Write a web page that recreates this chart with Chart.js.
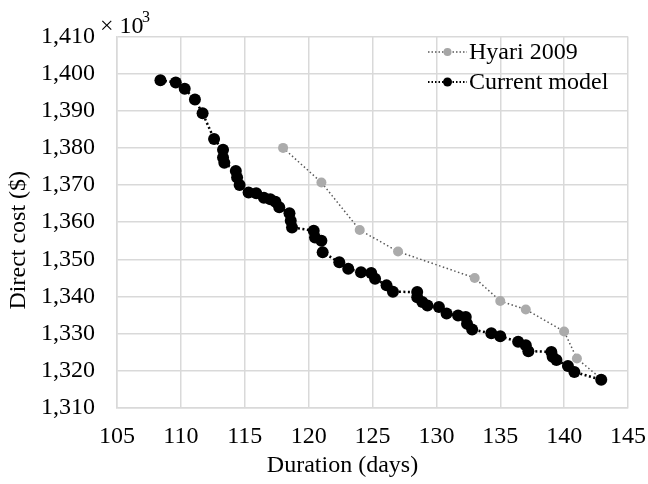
<!DOCTYPE html>
<html>
<head>
<meta charset="utf-8">
<script src="https://cdn.jsdelivr.net/npm/chart.js@4"></script>
<style>
  html, body { margin: 0; padding: 0; background: #fff; }
  #wrap { width: 648px; height: 484px; }
</style>
</head>
<body>
<div id="wrap"><canvas id="costchart" width="648" height="484"></canvas></div>
<script>
// data, cost in thousands of $
const hyariDays = [118, 121, 124, 127, 133, 135, 137, 140, 141, 143];
const hyariCost = [1380.0, 1370.7, 1357.9, 1352.1, 1345.0, 1338.8, 1336.5, 1330.6, 1323.3, 1317.6];

const modelDays = [108.4, 109.6, 110.3, 111.1, 111.7, 112.6, 113.3, 113.3, 113.4, 114.3,
  114.4, 114.6, 115.3, 115.9, 116.5, 117.0, 117.4, 117.7, 118.5, 118.6,
  118.7, 120.4, 120.5, 121.0, 121.1, 122.4, 123.1, 124.1, 124.9, 125.2,
  126.1, 126.6, 128.5, 128.5, 128.9, 129.3, 130.2, 130.8, 131.7, 132.3,
  132.4, 132.8, 134.3, 135.0, 136.4, 137.0, 137.2, 139.0, 139.1, 139.4,
  140.3, 140.8, 142.9];
const modelCost = [1398.2, 1397.6, 1395.9, 1393.0, 1389.3, 1382.4, 1379.5, 1377.4, 1376.0, 1373.8,
  1372.0, 1370.0, 1368.0, 1367.8, 1366.6, 1366.2, 1365.5, 1364.0, 1362.4, 1360.4,
  1358.6, 1357.7, 1355.9, 1355.0, 1351.9, 1349.2, 1347.5, 1346.5, 1346.3, 1344.8,
  1343.0, 1341.3, 1341.2, 1339.8, 1338.5, 1337.6, 1337.2, 1335.4, 1334.9, 1334.5,
  1332.7, 1331.1, 1330.1, 1329.3, 1327.8, 1326.9, 1325.3, 1325.1, 1323.8, 1322.9,
  1321.3, 1319.7, 1317.6];

const seriesNames = ['Hyari 2009', 'Current model'];
const xTitle = 'Duration (days)';
const yTitle = 'Direct cost ($)';

const serif = "'Liberation Serif', 'Times New Roman', serif";
const gridColor = '#d9d9d9';

const toPoints = (xs, ys) => xs.map((x, i) => ({ x: x, y: ys[i] }));

// exponent note + legend drawn on top of the plot
const extras = {
  id: 'extras',
  afterDraw(chart) {
    const c = chart.ctx;
    c.save();
    c.fillStyle = '#000';
    c.font = '24px ' + serif;
    c.textBaseline = 'alphabetic';
    c.textAlign = 'left';
    c.fillText('\u00d7 10', 100, 33);
    c.font = '16px ' + serif;
    c.fillText('3', 142, 22);

    const rows = [
      { y: 52, dot: '#a6a6a6', line: '#595959', r: 4 },
      { y: 82, dot: '#000', line: '#000', r: 4.5 }
    ];
    rows.forEach((row, i) => {
      c.strokeStyle = row.line;
      c.lineWidth = i ? 2 : 1.5;
      c.setLineDash([1.5, 2]);
      c.beginPath();
      c.moveTo(428, row.y);
      c.lineTo(467, row.y);
      c.stroke();
      c.setLineDash([]);
      c.fillStyle = row.dot;
      c.beginPath();
      c.arc(447.5, row.y, row.r, 0, Math.PI * 2);
      c.fill();
      c.fillStyle = '#000';
      c.font = '24px ' + serif;
      c.textBaseline = 'middle';
      c.fillText(seriesNames[i], 469, row.y + 1);
    });
    c.restore();
  }
};

new Chart(document.getElementById('costchart'), {
  type: 'scatter',
  data: {
    datasets: [{
      label: seriesNames[0],
      data: toPoints(hyariDays, hyariCost),
      showLine: true,
      borderColor: '#595959',
      borderWidth: 1.5,
      borderDash: [1.5, 2.5],
      pointRadius: 5,
      pointBackgroundColor: '#ababab',
      pointBorderWidth: 0,
      order: 2
    }, {
      label: seriesNames[1],
      data: toPoints(modelDays, modelCost),
      showLine: true,
      borderColor: '#000',
      borderWidth: 2.5,
      borderDash: [2, 2.5],
      pointRadius: 6,
      pointBackgroundColor: '#000',
      pointBorderWidth: 0,
      order: 1
    }]
  },
  options: {
    responsive: false,
    animation: false,
    events: [],
    layout: { padding: { top: 35, right: 0, left: 0, bottom: 0 } },
    plugins: {
      legend: { display: false },
      tooltip: { enabled: false }
    },
    scales: {
      x: {
        type: 'linear',
        min: 105,
        max: 145,
        afterFit: (s) => { s.height = 76; s.paddingRight = 20; },
        ticks: { stepSize: 5, color: '#000', font: { family: serif, size: 24 }, padding: 14 },
        grid: { color: gridColor, lineWidth: 1.5, drawTicks: false },
        border: { color: gridColor, width: 1.5 },
        title: {
          display: true,
          text: xTitle + '\u00a0'.repeat(10),
          color: '#000',
          font: { family: serif, size: 24 },
          padding: { top: 0, bottom: 4 }
        }
      },
      y: {
        min: 1310,
        max: 1410,
        afterFit: (s) => { s.width = 117; },
        ticks: {
          stepSize: 10,
          color: '#000',
          font: { family: serif, size: 24 },
          padding: 22,
          callback: (v) => v.toLocaleString('en-US')
        },
        grid: { color: gridColor, lineWidth: 1.5, drawTicks: false },
        border: { color: gridColor, width: 1.5 },
        title: {
          display: true,
          text: yTitle + '\u00a0'.repeat(6),
          color: '#000',
          font: { family: serif, size: 24 },
          padding: { top: 4, bottom: 0 }
        }
      }
    }
  },
  plugins: [extras]
});
</script>
</body>
</html>
